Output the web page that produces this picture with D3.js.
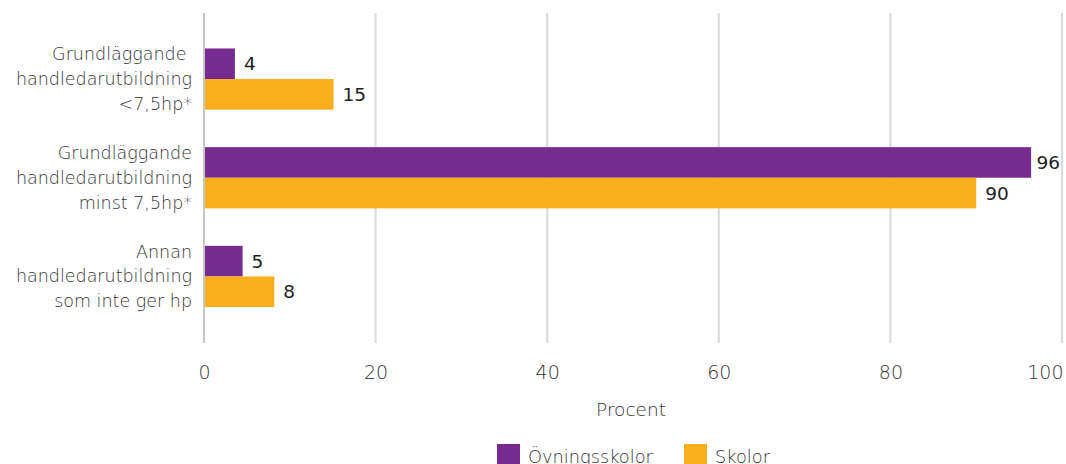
<!DOCTYPE html>
<html><head><meta charset="utf-8">
<script src="https://cdn.jsdelivr.net/npm/d3@7"></script>
<style>body{margin:0;background:#fff}svg{display:block}</style>
</head><body>
<svg id="c" width="1066" height="464"></svg>
<script>
const categories = [
  ["Grundläggande ", "handledarutbildning", "<7,5hp*"],
  ["Grundläggande", "handledarutbildning", "minst 7,5hp*"],
  ["Annan", "handledarutbildning", "som inte ger hp"]
];
const seriesNames = ["Övningsskolor", "Skolor"];
const ovningsskolor = [3.6, 96.4, 4.5];
const skolor = [15.1, 90.0, 8.2];
const valueLabels = [["4","96","5"],["15","90","8"]];
const xTicks = [0, 20, 40, 60, 80, 100];
const colors = ["#772a8f", "#f9ae1b"];
const FONT = "'DejaVu Sans', sans-serif";
const TEXT = "#333";

const svg = d3.select("#c");
const x = d3.scaleLinear().domain([0, 100]).range([204, 1062]);
const y = d3.scaleBand().domain(d3.range(categories.length)).range([29.7, 325.8]).paddingInner(0.38).paddingOuter(0.19);
const sub = d3.scaleBand().domain([0,1]).range([0, y.bandwidth()]);

// grid
svg.append("g").selectAll("line").data(xTicks).join("line")
  .attr("x1", d => x(d)).attr("x2", d => x(d))
  .attr("y1", 13).attr("y2", 343)
  .attr("stroke", d => d === 0 ? "#c6c6c6" : "#d9d9d9").attr("stroke-width", 2);

const series = [ovningsskolor, skolor];
series.forEach((vals, s) => {
  svg.append("g").selectAll("rect").data(vals).join("rect")
    .attr("x", x(0) + 1).attr("y", (d, i) => y(i) + sub(s))
    .attr("width", d => x(d) - x(0) - 1).attr("height", sub.bandwidth())
    .attr("fill", colors[s]);
  svg.append("g").selectAll("text").data(vals).join("text")
    .attr("x", d => x(d) + 9).attr("y", (d, i) => y(i) + sub(s) + sub.bandwidth() / 2)
    .attr("dy", "0.36em")
    .attr("font-family", FONT).attr("font-size", 18.5).attr("fill", "#1e1e1e")
    .text((d, i) => valueLabels[s][i])
    .each(function() {
      const b = this.getBBox();
      if (b.x + b.width > 1060) d3.select(this).attr("x", 1060 - b.width);
    });
});

// category labels
categories.forEach((lines, i) => {
  const cy = y(i) + y.bandwidth() / 2;
  const t = svg.append("text").attr("text-anchor", "end")
    .attr("font-family", FONT).attr("font-size", 17.5).attr("font-weight", 300).attr("fill", TEXT);
  lines.forEach((ln, k) => {
    t.append("tspan").attr("x", 192).attr("y", cy + 6 + (k - 1) * 24.8)
      .attr("xml:space", "preserve").text(ln);
  });
});

// x axis ticks
const axis = d3.axisBottom(x).tickValues(xTicks).tickSize(0).tickPadding(0);
const ag = svg.append("g").attr("transform", "translate(0,365.5)").call(axis);
ag.select(".domain").remove();
ag.selectAll("text").attr("font-family", FONT).attr("font-size", 19).attr("font-weight", 300).attr("fill", TEXT)
  .filter(d => d === 100).attr("text-anchor", "end").attr("x", 1);

svg.append("text").attr("x", 631).attr("y", 416).attr("text-anchor", "middle")
  .attr("font-family", FONT).attr("font-size", 18.5).attr("font-weight", 300).attr("fill", TEXT).text("Procent");

// legend
const legX = [497, 684];
seriesNames.forEach((n, s) => {
  svg.append("rect").attr("x", legX[s]).attr("y", 444).attr("width", 23).attr("height", 22).attr("fill", colors[s]);
  svg.append("text").attr("x", legX[s] + 31).attr("y", 463)
    .attr("font-family", FONT).attr("font-size", 17.8).attr("font-weight", 300).attr("fill", TEXT).text(n);
});
</script>
</body></html>
